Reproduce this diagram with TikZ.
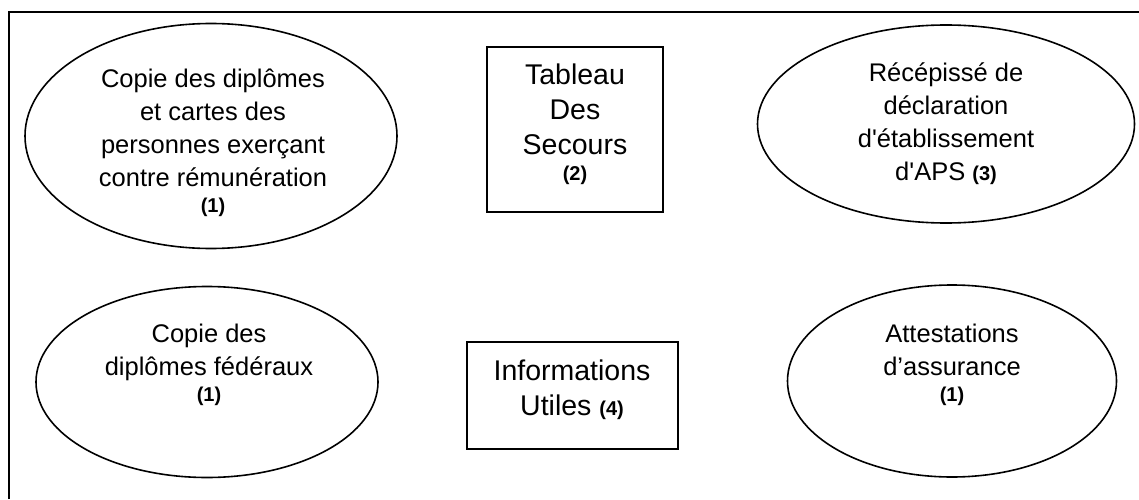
\documentclass[tikz,border=0pt]{standalone}
\usepackage{fontspec}
\setmainfont{Liberation Sans}
\usepackage{tikz}
\usetikzlibrary{shapes.geometric}

\newcommand{\renvoi}[1]{{\bfseries\fontsize{20}{22}\selectfont (#1)}}

\begin{document}
\begin{tikzpicture}[x=1pt,y=1pt,
    piece/.style={draw, ellipse, line width=1.6pt, inner sep=0pt},
    boite/.style={draw, rectangle, line width=1.4pt, inner sep=0pt},
    txt/.style={align=center, inner sep=0pt, font=\fontsize{25.5}{33}\selectfont}]
    \useasboundingbox (0,0) rectangle (1139,499);

    % Cadre (coupé à droite et en bas)
    \coordinate (cadreBas) at (9,0);
    \coordinate (cadreCoin) at (9,487);
    \coordinate (cadreDroit) at (1139,487);
    \draw[line width=1.5pt] (cadreBas) -- (cadreCoin) -- (cadreDroit);

    % Pieces du haut
    \node[piece, minimum width=372, minimum height=225] (cartes) at (211,363) {};
    \node[txt] (cartesTxt) at (213,356) {Copie des diplômes\\ et cartes des\\ personnes exerçant\\ contre rémunération\\[-7pt] \renvoi{1}};

    \node[boite, minimum width=176, minimum height=165] (tableau) at (575,369.5) {};
    \node[txt, font=\fontsize{28.5}{35}\selectfont] (tableauTxt) at (575,375) {Tableau\\ Des\\ Secours\\[-9pt] \renvoi{2}};

    \node[piece, minimum width=377, minimum height=198] (recepisse) at (946,375) {};
    \node[txt] (recepisseTxt) at (946,375) {Récépissé de\\ déclaration\\ d\textquotesingle établissement\\ d\textquotesingle APS \renvoi{3}};

    % Pieces du bas
    \node[piece, minimum width=342, minimum height=191] (federaux) at (207,117) {};
    \node[txt] (federauxTxt) at (209,134) {Copie des\\ diplômes fédéraux\\[-7pt] \renvoi{1}};

    \node[boite, minimum width=211, minimum height=107] (infos) at (572.5,103.5) {};
    \node[txt, font=\fontsize{28.5}{35}\selectfont] (infosTxt) at (572,109.5) {Informations\\ Utiles \renvoi{4}};

    \node[piece, minimum width=329, minimum height=192] (assurance) at (952,118) {};
    \node[txt] (assuranceTxt) at (952,134) {Attestations\\ d’assurance\\[-7pt] \renvoi{1}};

\end{tikzpicture}
\end{document}
